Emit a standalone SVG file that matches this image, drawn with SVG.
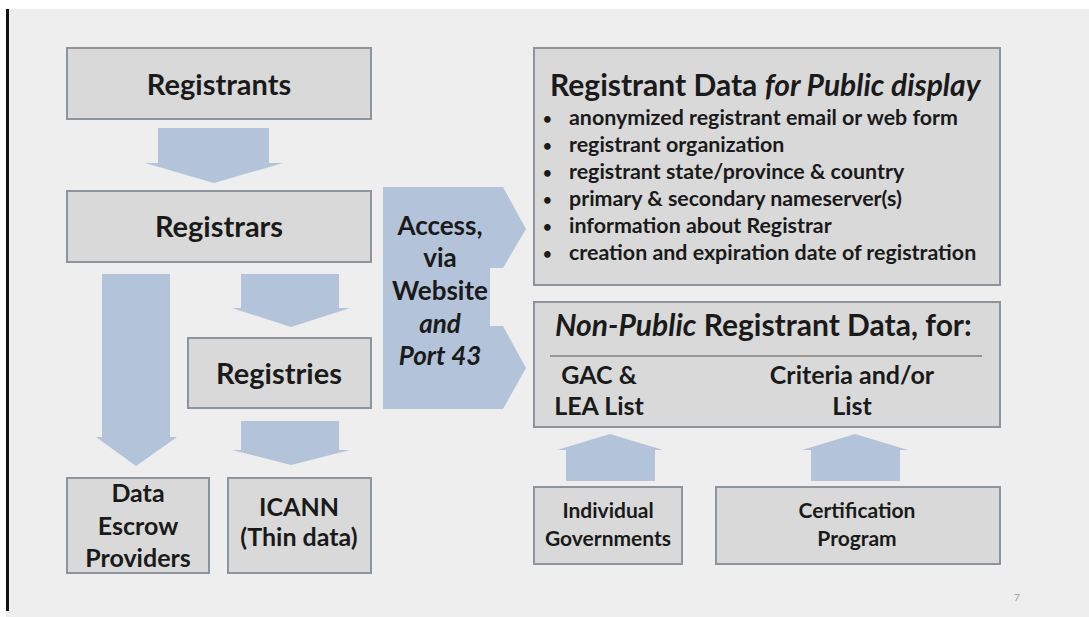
<svg xmlns="http://www.w3.org/2000/svg" width="1089" height="617" viewBox="0 0 1089 617">
<style>
.box{fill:#d9d9d9;stroke:#8e949b;stroke-width:2}
.arr{fill:#b3c3d9}
text{font-family:Lato,"Open Sans","Liberation Sans",sans-serif;font-weight:bold;fill:#1a1a1a}
.c{text-anchor:middle}
.h1{font-size:29px}
.h2{font-size:25px}
.h3{font-size:26px}
.sm{font-size:21px}
.ttl{font-size:30px}
.bl{font-size:21.4px}
.dot{font-size:15px}
</style>
<rect x="0" y="0" width="1089" height="617" fill="#eeeeee"/>
<rect x="0" y="0" width="1089" height="9" fill="#ffffff"/>
<rect x="0" y="9" width="6" height="608" fill="#ffffff"/>
<rect x="6" y="9" width="3" height="602" fill="#111111"/>
<g id="connectors">
<polygon class="arr" points="158,128 269,128 269,163 283,163 214,183 145,163 158,163"/>
<polygon class="arr" points="102,274 170,274 170,437 177,437 136,466 96,437 102,437"/>
<polygon class="arr" points="241,274 339,274 339,308 350,308 291,327 232,308 241,308"/>
<polygon class="arr" points="241,421 339,421 339,450 350,450 291,465 232,450 241,450"/>
<polygon class="arr" points="566,481 655,481 655,450 663,450 610,434 557,450 566,450"/>
<polygon class="arr" points="811,481 900,481 900,450 908,450 855,434 802,450 811,450"/>
<polygon id="access" class="arr" points="383,187 503,187 526,229 503,268 490,268 490,326 503,326 526,368 503,409 383,409"/>
</g>
<g id="access-label">
<text class="c h3" x="440" y="235">Access,</text>
<text class="c h3" x="440" y="267">via</text>
<text class="c h3" x="440" y="300">Website</text>
<text class="c h3" x="440" y="333" font-style="italic">and</text>
<text class="c h3" x="440" y="365" font-style="italic">Port 43</text>
</g>
<g id="registrants">
<rect class="box" x="67" y="48" width="304" height="71"/>
<text class="c h1" x="219" y="95">Registrants</text>
</g>
<g id="registrars">
<rect class="box" x="67" y="191" width="304" height="71"/>
<text class="c h1" x="219" y="237">Registrars</text>
</g>
<g id="registries">
<rect class="box" x="188" y="338" width="183" height="70"/>
<text class="c h1" x="279" y="384">Registries</text>
</g>
<g id="escrow">
<rect class="box" x="67" y="478" width="142" height="95"/>
<text class="c h2" x="138" y="502">Data</text>
<text class="c h2" x="138" y="535">Escrow</text>
<text class="c h2" x="138" y="567">Providers</text>
</g>
<g id="icann">
<rect class="box" x="228" y="478" width="143" height="95"/>
<text class="c h2" x="299" y="516">ICANN</text>
<text class="c h2" x="299" y="546">(Thin data)</text>
</g>
<g id="public">
<rect class="box" x="534" y="48" width="466" height="237"/>
<text class="ttl" x="550" y="96">Registrant Data <tspan font-style="italic">for Public display</tspan></text>
<text class="dot" x="543" y="124">•</text><text class="bl" x="569" y="125">anonymized registrant email or web form</text>
<text class="dot" x="543" y="151">•</text><text class="bl" x="569" y="152">registrant organization</text>
<text class="dot" x="543" y="178">•</text><text class="bl" x="569" y="179">registrant state/province &amp; country</text>
<text class="dot" x="543" y="205">•</text><text class="bl" x="569" y="206">primary &amp; secondary nameserver(s)</text>
<text class="dot" x="543" y="232">•</text><text class="bl" x="569" y="233">information about Registrar</text>
<text class="dot" x="543" y="259">•</text><text class="bl" x="569" y="260">creation and expiration date of registration</text>
</g>
<g id="nonpublic">
<rect class="box" x="534" y="302" width="466" height="125"/>
<text class="ttl" x="555" y="336"><tspan font-style="italic">Non-Public</tspan> Registrant Data, for:</text>
<line x1="550" y1="356" x2="982" y2="356" stroke="#7f7f7f" stroke-width="1.5"/>
<text class="c h2" x="599" y="384">GAC &amp;</text>
<text class="c h2" x="599" y="415">LEA List</text>
<text class="c h2" x="852" y="384">Criteria and/or</text>
<text class="c h2" x="852" y="415">List</text>
</g>
<g id="governments">
<rect class="box" x="534" y="487" width="148" height="77"/>
<text class="c sm" x="608" y="518">Individual</text>
<text class="c sm" x="608" y="546">Governments</text>
</g>
<g id="certification">
<rect class="box" x="716" y="487" width="284" height="77"/>
<text class="c sm" x="857" y="518">Certification</text>
<text class="c sm" x="857" y="546">Program</text>
</g>
<text x="1014" y="601" font-size="10" style="fill:#9a9a9a;font-weight:normal">7</text>
</svg>
